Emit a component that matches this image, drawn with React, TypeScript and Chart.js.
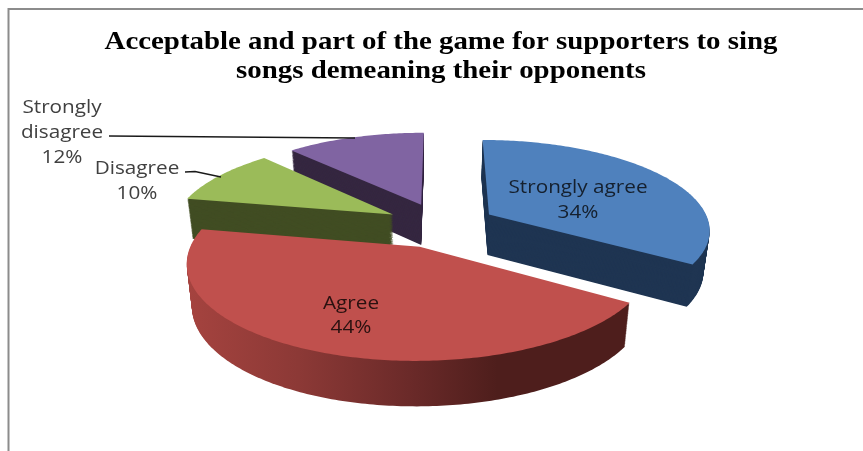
import { useEffect, useRef } from "react";
import { Chart, registerables } from "chart.js";

Chart.register(...registerables);

const WIDTH = 863;
const HEIGHT = 451;

const categories = ["Strongly agree", "Agree", "Disagree", "Strongly disagree"];
const shares = [34, 44, 10, 12];
const titleLines = [
  "Acceptable and part of the game for supporters to sing",
  "songs demeaning their opponents",
];

const topColors = ["#4f81bd", "#c0504d", "#9bbb59", "#8064a2"];
const wallColors = ["#1f3552", "#6b2a29", "#414d23", "#352740"];
const agreeWallStops: [number, string][] = [
  [0, "#a5433f"],
  [0.25, "#8c3936"],
  [0.5, "#6b2a29"],
  [0.7, "#4e1e1c"],
  [1, "#4e1e1c"],
];

// Camera used to lay the flat pie on the table: a perspective view with a thick rim.
const camera = {
  cx: 441,
  cy: 225,
  spreadX: 221,
  spreadY: 89,
  foreshorten: 0.155,
  thickness: 41,
  thicknessFalloff: 0.08,
  baseShrink: 0.022,
  baseShrinkCentre: 422,
};
const SLICE_OFFSET = 40;
const TITLE_STRETCH = 1.155;
const CAPTION_STRETCH = 1.09;

// Where each caption sits, line by line, with the leader that ties it to its slice.
const captionLayout = [
  { x: 578, y: 187.5, step: 25, color: "#15202e", leader: null },
  { x: 351, y: 303.5, step: 24, color: "#2a1110", leader: null },
  { x: 137, y: 168.5, step: 25, color: "#404040", leader: [[185, 172], [195, 171.5], [221, 177]] },
  { x: 62, y: 107.5, step: 25, color: "#404040", leader: [[109, 136], [355, 138]] },
];

function project(u: number, v: number, z: number) {
  const c = camera;
  const w = 1 - c.foreshorten * v;
  const x = c.cx + (c.spreadX * u) / w;
  return {
    x: x - (x - c.baseShrinkCentre) * c.baseShrink * z,
    y: c.cy + (c.spreadY * v) / w + (z * c.thickness) / (1 - c.thicknessFalloff * v),
  };
}

// Traces one slice, from the library's own arc geometry, at a given height of the rim.
function traceSlice(ctx: CanvasRenderingContext2D, arc: any, z: number) {
  const { startAngle, endAngle, outerRadius } = arc.getProps(["startAngle", "endAngle", "outerRadius"]);
  const mid = (startAngle + endAngle) / 2;
  const shift = arc.options.offset / outerRadius;
  const ou = Math.cos(mid) * shift;
  const ov = Math.sin(mid) * shift;
  const steps = Math.max(8, Math.ceil((endAngle - startAngle) / 0.015));
  ctx.beginPath();
  const apex = project(ou, ov, z);
  ctx.moveTo(apex.x, apex.y);
  for (let i = 0; i <= steps; i++) {
    const t = startAngle + ((endAngle - startAngle) * i) / steps;
    const p = project(Math.cos(t) + ou, Math.sin(t) + ov, z);
    ctx.lineTo(p.x, p.y);
  }
  ctx.closePath();
}

const pie3d = {
  id: "pie3d",
  beforeDatasetsDraw(chart: any) {
    const ctx: CanvasRenderingContext2D = chart.ctx;
    const arcs = chart.getDatasetMeta(0).data.map((arc: any, index: number) => ({ arc, index }));
    // Rear slices first, so nearer ones cover them.
    arcs.sort((a: any, b: any) => {
      const depth = (e: any) => Math.sin((e.arc.startAngle + e.arc.endAngle) / 2);
      return depth(a) - depth(b);
    });
    for (const { arc, index } of arcs) {
      let wall: string | CanvasGradient = wallColors[index];
      if (index === 1) {
        const g = ctx.createLinearGradient(188, 0, 630, 0);
        agreeWallStops.forEach(([at, color]) => g.addColorStop(at, color));
        wall = g;
      }
      ctx.fillStyle = wall;
      for (let layer = 48; layer > 0; layer--) {
        traceSlice(ctx, arc, layer / 48);
        ctx.fill();
      }
      ctx.fillStyle = topColors[index];
      traceSlice(ctx, arc, 0);
      ctx.fill();
    }
    return false;
  },
};

// The heading is set wide, so its block is drawn through a horizontal stretch about its centre.
const wideTitle = {
  id: "wideTitle",
  beforeDraw(chart: any) {
    const block = chart.titleBlock;
    if (!block || block.__wide) return;
    const original = block.draw;
    block.__wide = true;
    block.draw = function (...args: any[]) {
      const ctx: CanvasRenderingContext2D = chart.ctx;
      const centre = block.left + block.width / 2;
      ctx.save();
      ctx.translate(centre, 0);
      ctx.scale(TITLE_STRETCH, 1);
      ctx.translate(-centre, 0);
      original.apply(block, args);
      ctx.restore();
    };
  },
};

const frameAndCaptions = {
  id: "frameAndCaptions",
  beforeDraw(chart: any) {
    const ctx: CanvasRenderingContext2D = chart.ctx;
    ctx.save();
    ctx.fillStyle = "#ffffff";
    ctx.fillRect(0, 0, WIDTH, HEIGHT);
    ctx.strokeStyle = "#8c8c8c";
    ctx.lineWidth = 2;
    ctx.beginPath();
    ctx.moveTo(8.5, HEIGHT);
    ctx.lineTo(8.5, 9);
    ctx.lineTo(WIDTH, 9);
    ctx.stroke();
    ctx.restore();
  },
  afterDraw(chart: any) {
    const ctx: CanvasRenderingContext2D = chart.ctx;
    ctx.save();
    ctx.textAlign = "center";
    ctx.textBaseline = "middle";
    ctx.font = '19px "Open Sans"';
    categories.forEach((name, i) => {
      const place = captionLayout[i];
      const lines = [...wrapCaption(name), `${shares[i]}%`];
      ctx.fillStyle = place.color;
      lines.forEach((line, n) => {
        ctx.save();
        ctx.translate(place.x, place.y + n * place.step);
        ctx.scale(CAPTION_STRETCH, 1);
        ctx.fillText(line, 0, 0);
        ctx.restore();
      });
      if (place.leader) {
        ctx.strokeStyle = "#1a1a1a";
        ctx.lineWidth = 1.4;
        ctx.beginPath();
        place.leader.forEach(([x, y], n) => (n ? ctx.lineTo(x, y) : ctx.moveTo(x, y)));
        ctx.stroke();
      }
    });
    ctx.restore();
  },
};

function wrapCaption(name: string) {
  return name === "Strongly disagree" ? name.split(" ") : [name];
}

export default function App() {
  const ref = useRef<HTMLCanvasElement>(null);

  useEffect(() => {
    if (!ref.current) return;
    const chart = new Chart(ref.current, {
      type: "pie",
      data: {
        labels: categories,
        datasets: [
          {
            data: shares,
            backgroundColor: topColors,
            borderWidth: 0,
            offset: SLICE_OFFSET,
            hoverOffset: 0,
          },
        ],
      },
      plugins: [wideTitle, frameAndCaptions, pie3d],
      options: {
        animation: false,
        responsive: false,
        devicePixelRatio: 1,
        events: [],
        layout: { padding: { left: 19 } },
        plugins: {
          legend: { display: false },
          tooltip: { enabled: false },
          title: {
            display: true,
            text: titleLines,
            color: "#000000",
            font: { family: '"Liberation Serif"', size: 25, weight: "bold", lineHeight: 1.16 },
            padding: { top: 28, bottom: 8 },
          },
        },
      },
    } as any);
    return () => chart.destroy();
  }, []);

  return (
    <div style={{ position: "absolute", left: 0, top: 0, width: WIDTH, height: HEIGHT }}>
      <canvas ref={ref} width={WIDTH} height={HEIGHT} style={{ display: "block" }} />
    </div>
  );
}
